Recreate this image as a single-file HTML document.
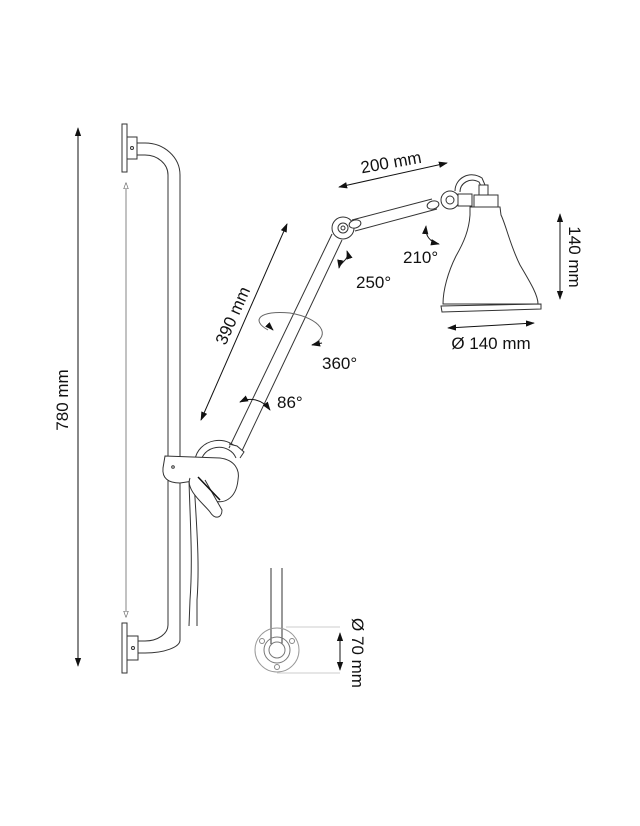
<!DOCTYPE html>
<html><head><meta charset="utf-8"><style>
body{margin:0;background:#fff}
svg{display:block}
text{font-family:"Liberation Sans",sans-serif;font-size:17px;fill:#111}
</style></head><body>
<svg width="640" height="826" viewBox="0 0 640 826" xmlns="http://www.w3.org/2000/svg">
<defs>
<marker id="a" viewBox="0 0 10 10" refX="9" refY="5" markerWidth="9" markerHeight="9" orient="auto-start-reverse"><path d="M0,1.5 L10,5 L0,8.5z" fill="#111"/></marker>
<marker id="h" viewBox="0 0 10 10" refX="9" refY="5" markerWidth="8" markerHeight="8" orient="auto-start-reverse"><path d="M0,1.5 L10,5 L0,8.5z" fill="#fff" stroke="#666" stroke-width="1"/></marker>
</defs>
<g fill="none" stroke="#333" stroke-width="1">
<line x1="78" y1="128" x2="78" y2="666" stroke="#111" marker-start="url(#a)" marker-end="url(#a)"/>
<line x1="126" y1="183" x2="126" y2="617" stroke="#666" stroke-width="0.8" marker-start="url(#h)" marker-end="url(#h)"/>
<rect x="122" y="124" width="5" height="48" fill="#fff"/>
<rect x="127" y="137" width="10" height="22" fill="#fff"/>
<circle cx="132" cy="148" r="1.5"/>
<path d="M137,143 H145 A35,32 0 0 1 180,175 V640 A35,13 0 0 1 145,653 H137"/>
<path d="M137,155 H145 A23,20 0 0 1 168,175 V625 A23,16 0 0 1 145,641 H137"/>
<rect x="122" y="623" width="5" height="50" fill="#fff"/>
<rect x="127" y="636" width="11" height="24" fill="#fff"/>
<circle cx="133" cy="648" r="1.5"/>
<path d="M189,480 C190,520 193,560 190,600 L189,626"/>
<path d="M194,480 C196,520 200,560 197,600 L197,626"/>
<path d="M195,460 A24,22 0 0 1 240,452"/>
<path d="M201,463 A18,16 0 0 1 236,458"/>
<path d="M165,456 L220,458 C235,460 240,470 238,480 C236,500 222,505 212,500 L200,480 L180,483 C168,483 162,478 163,468 Z" fill="#fff"/>
<circle cx="173" cy="467" r="1.3"/>
<path d="M190,478 C185,490 205,505 210,512 C215,520 222,518 222,510 L205,480" fill="#fff"/>
<line x1="198" y1="477" x2="220" y2="500" stroke="#111" stroke-width="1.5"/>
<path d="M229,448 L332,234"/>
<path d="M240,455 L342,240"/>
<path d="M229,444 L237,446 L244,452 L240,458" fill="#fff"/>
<circle cx="343" cy="228" r="11" fill="#fff"/>
<circle cx="343" cy="228" r="5"/>
<circle cx="343" cy="228" r="2"/>
<ellipse cx="355" cy="224" rx="6" ry="4" fill="#fff" transform="rotate(-15 355 224)"/>
<path d="M352,220 L432,199"/>
<path d="M355,231 L437,209"/>
<ellipse cx="433" cy="205" rx="6" ry="4" fill="#fff" transform="rotate(-15 433 205)"/>
<circle cx="450" cy="200" r="9" fill="#fff"/>
<circle cx="450" cy="200" r="4"/>
<rect x="458" y="194" width="14" height="12" fill="#fff"/>
<path d="M455,191 C455,178 470,170 482,178 L485,185"/>
<path d="M460,192 C460,183 470,177 479,182 L481,186"/>
<rect x="479" y="185" width="9" height="10" fill="#fff"/>
<rect x="474" y="195" width="24" height="12" fill="#fff"/>
<path d="M470,207 H500 L501,215 C506,225 510,245 520,265 C530,282 538,295 538,304 H443 C443,290 448,272 456,256 C464,242 469,230 470,215 Z" fill="#fff"/>
<path d="M441,306 L541,304 L541,309 L442,312 Z" fill="#fff"/>
<line x1="560" y1="214" x2="560" y2="299" stroke="#111" marker-start="url(#a)" marker-end="url(#a)"/>
<line x1="448" y1="328" x2="534" y2="323" stroke="#111" marker-start="url(#a)" marker-end="url(#a)"/>
<line x1="339" y1="187" x2="447" y2="163" stroke="#111" marker-start="url(#a)" marker-end="url(#a)"/>
<line x1="201" y1="420" x2="287" y2="224" stroke="#111" marker-start="url(#a)" marker-end="url(#a)"/>
<path d="M347,251 C350,260 340,262 339,268" stroke="#111" marker-start="url(#a)" marker-end="url(#a)"/>
<path d="M426,226 C425,236 430,242 439,244" stroke="#111" marker-start="url(#a)" marker-end="url(#a)"/>
<path d="M268,330 C250,320 260,310 290,313 C320,318 333,335 312,345" stroke="#666"/>
<path d="M268,325 L273,330" stroke="#111" marker-end="url(#a)"/>
<path d="M322,343 L312,345" stroke="#111" marker-end="url(#a)"/>
<path d="M240,402 C250,397 262,399 270,410" stroke="#111" marker-start="url(#a)" marker-end="url(#a)"/>
<line x1="271" y1="568" x2="271" y2="644"/>
<line x1="282" y1="568" x2="282" y2="644"/>
<circle cx="277" cy="650" r="22" stroke="#999"/>
<circle cx="277" cy="650" r="13" stroke="#777"/>
<circle cx="277" cy="650" r="8" stroke="#777"/>
<circle cx="262" cy="641" r="2.5" stroke="#888"/>
<circle cx="292" cy="641" r="2.5" stroke="#888"/>
<circle cx="277" cy="667" r="2.5" stroke="#888"/>
<line x1="286" y1="627" x2="340" y2="627" stroke="#ccc"/>
<line x1="277" y1="673" x2="340" y2="673" stroke="#ccc"/>
<line x1="340" y1="633" x2="340" y2="670" stroke="#111" marker-start="url(#a)" marker-end="url(#a)"/>
</g>
<text transform="translate(68,400) rotate(-90)" text-anchor="middle">780 mm</text>
<text transform="translate(238,318) rotate(-66)" text-anchor="middle">390 mm</text>
<text transform="translate(392,168) rotate(-10)" text-anchor="middle">200 mm</text>
<text transform="translate(569,257) rotate(90)" text-anchor="middle">140 mm</text>
<text x="491" y="349" text-anchor="middle">Ø 140 mm</text>
<text transform="translate(352,653) rotate(90)" text-anchor="middle">Ø 70 mm</text>
<text x="356" y="288">250°</text>
<text x="403" y="263">210°</text>
<text x="322" y="369">360°</text>
<text x="277" y="408">86°</text>
</svg>
</body></html>
